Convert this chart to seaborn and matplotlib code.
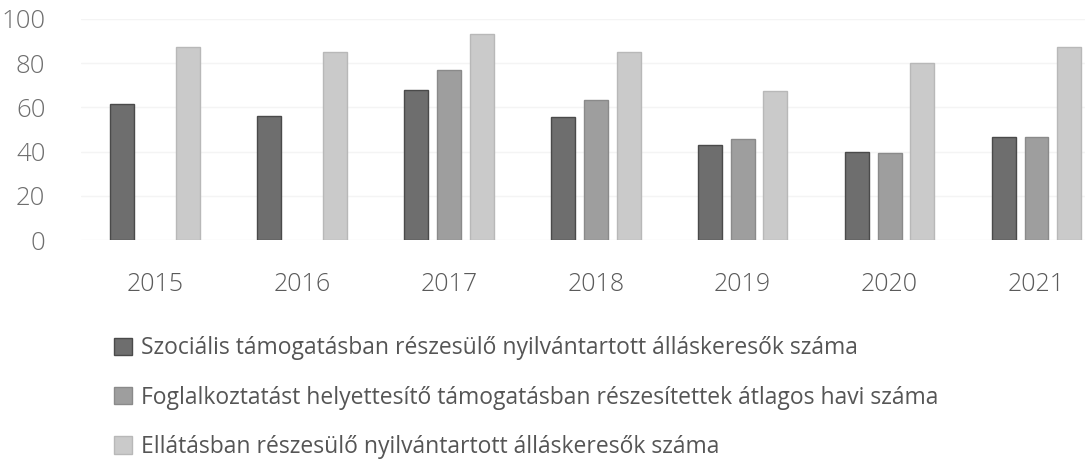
import pandas as pd
import seaborn as sns
import matplotlib.pyplot as plt

# years and the three series
years = ['2015', '2016', '2017', '2018', '2019', '2020', '2021']
szocialis = [61.5, 56, 68, 55.5, 43, 40, 46.5]
foglalkoztatast = [None, None, 77, 63.5, 45.5, 39.5, 46.5]
ellatasban = [87.5, 85, 93, 85, 67.5, 80, 87.5]

series_names = [
    'Szociális támogatásban részesülő nyilvántartott álláskeresők száma',
    'Foglalkoztatást helyettesítő támogatásban részesítettek átlagos havi száma',
    'Ellátásban részesülő nyilvántartott álláskeresők száma',
]
bar_colors = ['#6e6e6e', '#9e9e9e', '#cacaca']
edge_colors = ['#4a4a4a', '#8a8a8a', '#b8b8b8']

# long form table for seaborn
rows = []
for name, vals in zip(series_names, [szocialis, foglalkoztatast, ellatasban]):
    for y, v in zip(years, vals):
        rows.append({'year': y, 'series': name, 'value': v})
df = pd.DataFrame(rows)

sns.set_style('white')
plt.rcParams['font.family'] = ['Open Sans', 'DejaVu Sans']

fig = plt.figure(figsize=(10.85, 4.75), dpi=100)
ax = fig.add_axes([0.0751, 0.4947, 0.9249, 0.4653])

sns.barplot(data=df, x='year', y='value', hue='series', hue_order=series_names,
            order=years, palette=bar_colors, width=0.67, gap=0.27, ax=ax,
            legend=False)

# darker outlines like the original
for cont, ec in zip(ax.containers, edge_colors):
    for bar in cont:
        bar.set_edgecolor(ec)
        bar.set_linewidth(1.0)

ax.set_ylim(0, 100)
ax.set_xlim(-0.5, 6.33)
ax.set_yticks([0, 20, 40, 60, 80, 100])
ax.yaxis.grid(True, color='#f4f4f4', linewidth=1)
ax.set_axisbelow(True)
ax.set_xlabel('')
ax.set_ylabel('')
sns.despine(ax=ax, left=True, bottom=True)
ax.tick_params(axis='y', length=0, pad=26, labelsize=18.5, labelcolor='#6e6e6e')
ax.tick_params(axis='x', length=0, pad=23, labelsize=18, labelcolor='#5a5a5a')
for lab in ax.get_xticklabels() + ax.get_yticklabels():
    lab.set_fontweight('light')

# legend below the chart, one entry per row
handles = [plt.Rectangle((0, 0), 1, 1, facecolor=c, edgecolor=e, linewidth=1)
           for c, e in zip(bar_colors, edge_colors)]
fig.legend(handles, series_names, loc='upper left', bbox_to_anchor=(0.105, 0.292),
           frameon=False, ncol=1, fontsize=16.5, labelcolor='#555555',
           handlelength=0.8, handleheight=0.8, handletextpad=0.4,
           labelspacing=1.1, borderpad=0, borderaxespad=0)

fig.savefig('out.png', dpi=100)
